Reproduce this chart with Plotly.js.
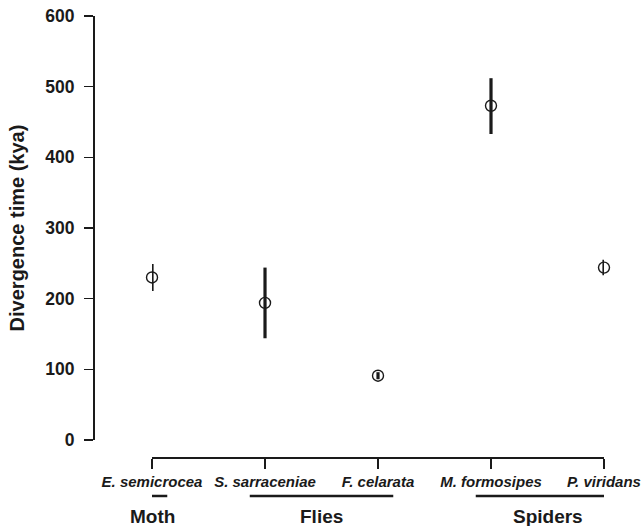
<!DOCTYPE html>
<html>
<head>
<meta charset="utf-8">
<script src="https://cdn.plot.ly/plotly-3.0.1.min.js"></script>
<style>html,body{margin:0;padding:0;background:#fff;}#chart{width:644px;height:526px;}</style>
</head>
<body>
<div id="chart"></div>
<script>
// Data
const species = ["E. semicrocea", "S. sarraceniae", "F. celarata", "M. formosipes", "P. viridans"];
const divergence = [230, 194, 91, 473, 244];
const errUpper = [19, 50, 5, 39, 11];
const errLower = [19, 50, 5, 40, 11];
const groupNames = ["Moth", "Flies", "Spiders"];
const groupStart = [0, 1, 3];
const groupEnd = [0, 2, 4];
const yTicks = [0, 100, 200, 300, 400, 500, 600];

const xIdx = species.map((_, i) => i);
const ink = "#1a1a1a";
const fontFam = "'Liberation Sans', Arial, Helvetica, sans-serif";

const trace = {
  type: "scatter",
  mode: "markers",
  x: xIdx,
  y: divergence,
  error_y: {
    type: "data",
    symmetric: false,
    array: errUpper,
    arrayminus: errLower,
    width: 0,
    thickness: 3.2,
    color: ink
  },
  marker: {symbol: "circle-open", size: 11, color: ink, line: {width: 1.4, color: ink}},
  cliponaxis: false,
  hoverinfo: "skip"
};

const shapes = [];
const annotations = [];
const pad = 0.135;
groupNames.forEach((g, i) => {
  shapes.push({
    type: "line", xref: "x", yref: "paper",
    x0: groupStart[i] - pad, x1: groupEnd[i] + pad,
    y0: -0.0884, y1: -0.0884,
    line: {color: ink, width: 2.5}
  });
  annotations.push({
    xref: "x", yref: "paper",
    x: (groupStart[i] + groupEnd[i]) / 2, y: -0.136,
    text: "<b>" + g + "</b>", showarrow: false,
    xanchor: "center", yanchor: "middle",
    font: {family: fontFam, size: 19, color: ink}
  });
});

const layout = {
  width: 644, height: 526,
  margin: {l: 93, r: 40, t: 16, b: 69, pad: 0},
  paper_bgcolor: "#fff", plot_bgcolor: "#fff",
  showlegend: false,
  xaxis: {
    domain: [0.1155, 1],
    range: [0, 4],
    anchor: "free", position: 0,
    tickvals: xIdx,
    ticktext: species.map(s => "<b><i>" + s + "</i></b>"),
    showline: true, linecolor: ink, linewidth: 1.5,
    ticks: "outside", ticklen: 10, tickwidth: 1.5, tickcolor: ink,
    showgrid: false, zeroline: false,
    tickfont: {family: fontFam, size: 15, color: ink},
    fixedrange: true
  },
  yaxis: {
    domain: [0.0385, 1],
    range: [0, 600],
    anchor: "free", position: 0,
    tickvals: yTicks,
    ticktext: yTicks.map(v => "<b>" + v + "</b>"),
    showline: true, linecolor: ink, linewidth: 1.5,
    ticks: "outside", ticklen: 9, tickwidth: 1.5, tickcolor: ink,
    ticklabelstandoff: 6,
    showgrid: false, zeroline: false,
    tickfont: {family: fontFam, size: 17.5, color: ink},
    title: {text: "<b>Divergence time (kya)</b>", font: {family: fontFam, size: 20, color: ink}, standoff: 14},
    fixedrange: true
  },
  shapes: shapes,
  annotations: annotations
};

Plotly.newPlot("chart", [trace], layout, {displayModeBar: false, staticPlot: true});
</script>
</body>
</html>
